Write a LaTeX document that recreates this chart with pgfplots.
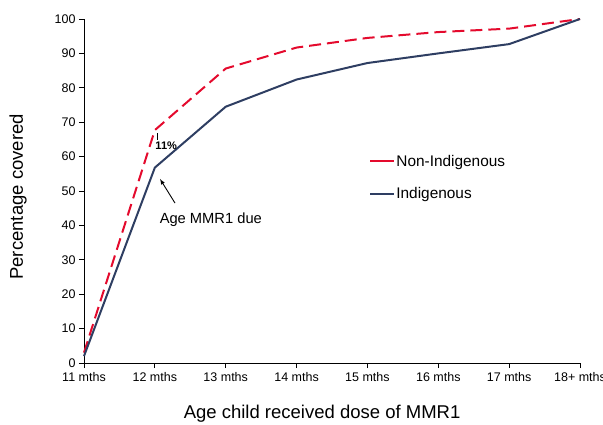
\documentclass[border=0pt]{standalone}
\usepackage{pgfplots}
\pgfplotsset{compat=1.18}
\usepackage{fontspec}
\setmainfont{Liberation Sans}
\definecolor{nonind}{RGB}{228,10,45}
\definecolor{ind}{RGB}{46,62,98}
\begin{document}
\begin{tikzpicture}
\path[use as bounding box] (-84bp,-62bp) rectangle (519bp,363bp);
\begin{axis}[
  at={(0,0)}, anchor=south west,
  scale only axis, width=496bp, height=344bp,
  xmin=0, xmax=7, ymin=0, ymax=100,
  axis x line=bottom, axis y line=left,
  axis line style={-, line width=0.8bp, black},
  tick align=outside, major tick length=5bp,
  tick style={line width=0.8bp, black},
  xtick={0,1,2,3,4,5,6,7},
  xticklabels={11 mths,12 mths,13 mths,14 mths,15 mths,16 mths,17 mths,18+ mths},
  ytick={0,10,...,100},
  /pgf/number format/assume math mode=true,
  ticklabel style={font=\fontsize{12.5bp}{14bp}\selectfont},
  xticklabel style={yshift=-1bp},
  xlabel={Age child received dose of MMR1},
  ylabel={Percentage covered},
  xlabel style={font=\fontsize{18.5bp}{21bp}\selectfont, at={(axis description cs:0.48,-0.148)}, anchor=center},
  ylabel style={font=\fontsize{18.5bp}{21bp}\selectfont, at={(axis description cs:-0.133,0.483)}, anchor=center},
  clip=false,
  legend style={at={(0.575,0.608)}, anchor=north west, draw=none, fill=none,
    font=\fontsize{15.4bp}{18bp}\selectfont, row sep=18bp, inner sep=0pt,
    nodes={inner sep=1pt}},
  legend cell align=left,
  legend image code/.code={\draw[#1, solid] (0bp,0bp) -- (24bp,0bp);},
]
\addplot[nonind, line width=2bp, dash pattern=on 12bp off 6bp] coordinates {
(0,3) (1,67.7) (2,85.6) (3,91.7) (4,94.5) (5,96.2) (6,97.2) (7,100)};
\addlegendentry{Non-Indigenous}
\addplot[ind, line width=2bp] coordinates {
(0,2) (1,56.8) (2,74.5) (3,82.4) (4,87.2) (5,90.0) (6,92.7) (7,100)};
\addlegendentry{Indigenous}
\draw[black, line width=0.8bp] (axis cs:1.03,66.8) -- (axis cs:1.03,64.8);
\node[font=\bfseries\fontsize{11bp}{13bp}\selectfont] at (axis cs:1.16,63.1) {11\%};
\draw[black, line width=0.9bp, -latex] (axis cs:1.284,46.5) -- (axis cs:1.073,53.5);
\node[font=\fontsize{14.7bp}{17bp}\selectfont] at (axis cs:1.79,41.6) {Age MMR1 due};
\end{axis}
\end{tikzpicture}
\end{document}
